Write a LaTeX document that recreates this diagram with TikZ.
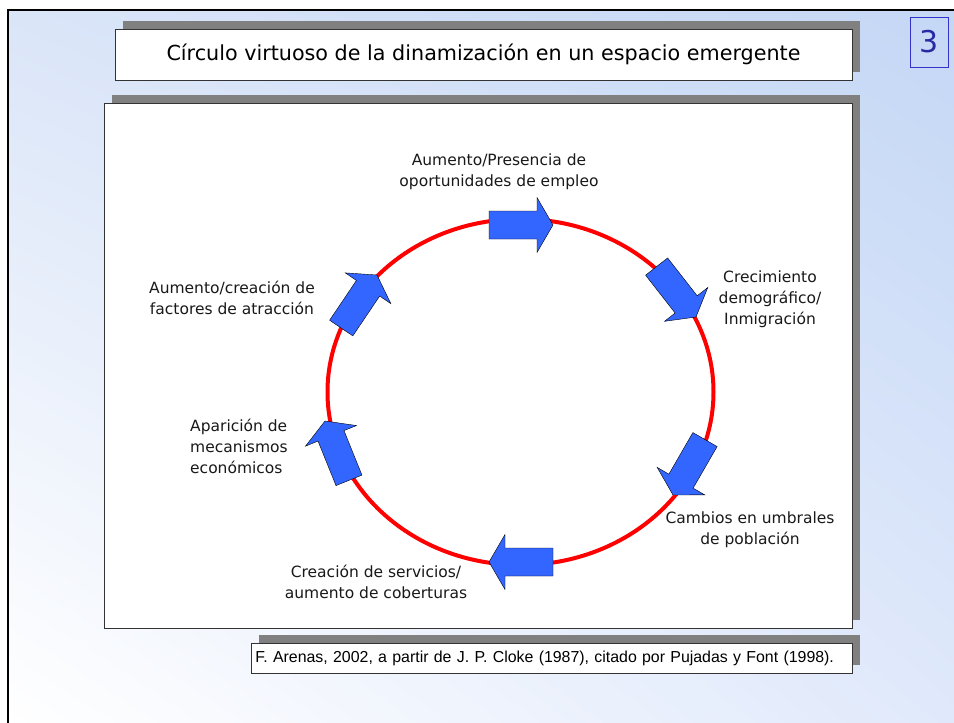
\documentclass[tikz,border=0pt]{standalone}
\usepackage{fontspec}
\usepackage{tikz}
\usepackage{xcolor}
\usetikzlibrary{shadows,shadings}
\setmainfont{DejaVu Sans}
\newfontfamily\citefont{Liberation Sans}
\definecolor{arrowblue}{HTML}{3366FF}
\definecolor{shadowgray}{HTML}{808080}
\definecolor{numblue}{HTML}{3333CC}
\definecolor{slideblue}{RGB}{196,215,245}
\definecolor{slidetopleft}{RGB}{218,229,248}
\definecolor{slidebotright}{RGB}{224,233,251}
\tikzset{
    shadow-box/.style = {draw=black!80, fill=white, thick, rectangle, inner sep=0pt, drop shadow={shadow xshift=8pt, shadow yshift=8pt, fill=shadowgray, opacity=1}},
    cycle-label/.style = {align=center, inner sep=0pt, text=black!90, font=\fontsize{15.5}{21}\selectfont},
    block-arrow/.style = {fill=arrowblue, draw=black, thin, line join=miter},
    pics/cycle-arrow/.style = {code={\draw[block-arrow] (0,0) -- (-16,-27.5) -- (-16,-14) -- (-64,-14) -- (-64,14) -- (-16,14) -- (-16,27.5) -- cycle;}},
}

\begin{document}
\begin{tikzpicture}[x=1pt, y=-1pt]
\useasboundingbox (0,0) rectangle (954,723);
\shade[lower left=white, upper left=slidetopleft, upper right=slideblue, lower right=slidebotright] (8,10) rectangle (954,723);
\draw[line width=2.5pt] (8,723) -- (8,10) -- (954,10);

\node[shadow-box, minimum width=737pt, minimum height=51pt, font=\fontsize{20.7}{24}\selectfont] (title) at (483.5,54.5) {Círculo virtuoso de la dinamización en un espacio emergente};
\node[draw=numblue, fill=none, minimum width=38pt, minimum height=50pt, inner sep=0pt, text=numblue!80!black, font=\fontsize{30}{30}\selectfont] (slidenum) at (929,42) {3};
\node[shadow-box, minimum width=748pt, minimum height=525pt] (panel) at (478,365.5) {};
\node[shadow-box, anchor=west, minimum height=30pt, text width=593pt, inner xsep=4pt, align=left, font=\citefont\fontsize{15.9}{18}\selectfont] (source) at (251,658) {F. Arenas, 2002, a partir de J. P. Cloke (1987), citado por Pujadas y Font (1998).};

\draw[red, line width=4pt] (520.5,392) ellipse [x radius=193pt, y radius=173pt];
\pic at (553,225) {cycle-arrow};
\pic[rotate=-52] at (696,317) {cycle-arrow};
\pic[rotate=-120] at (673,495) {cycle-arrow};
\pic[rotate=180] at (489,562) {cycle-arrow};
\pic[rotate=112] at (325,421) {cycle-arrow};
\pic[rotate=56] at (377,275) {cycle-arrow};

\node[cycle-label] (empleo) at (499,172) {Aumento/Presencia de\\oportunidades de empleo};
\node[cycle-label] (crecimiento) at (770,299) {Crecimiento\\demográfico/\\Inmigración};
\node[cycle-label] (umbrales) at (750,530) {Cambios en umbrales\\de población};
\node[cycle-label] (servicios) at (376,582) {Creación de servicios/\\aumento de coberturas};
\node[cycle-label, anchor=west, align=left] (mecanismos) at (190,446) {Aparición de\\mecanismos\\económicos};
\node[cycle-label] (atraccion) at (232,298) {Aumento/creación de\\factores de atracción};
\end{tikzpicture}
\end{document}
